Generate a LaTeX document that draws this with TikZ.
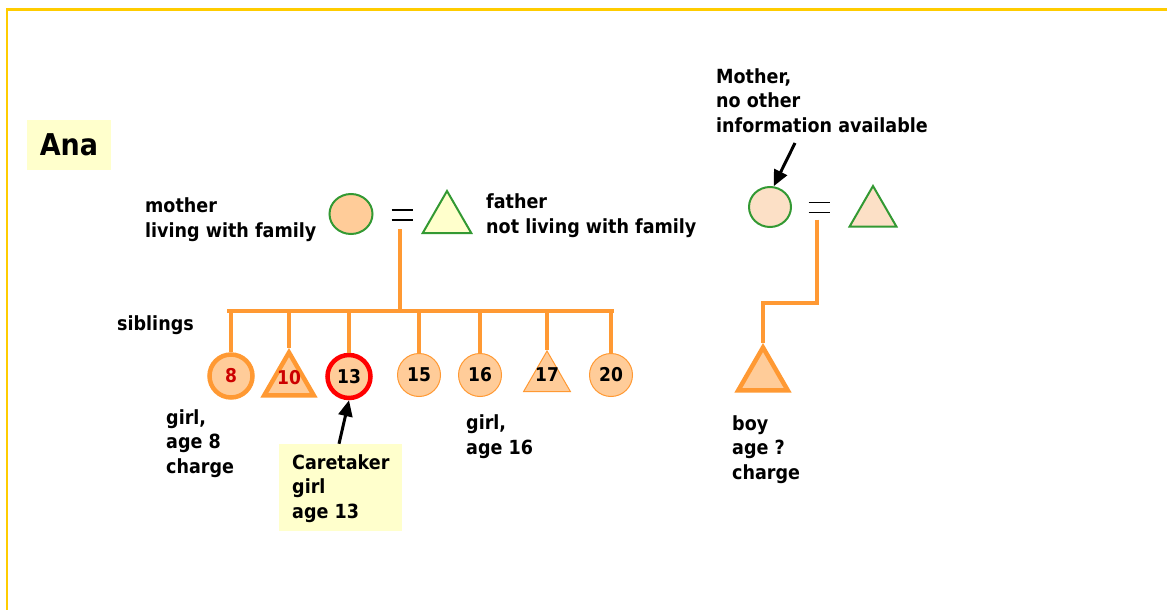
\documentclass[tikz,border=0pt]{standalone}
\usepackage{fontspec}
\setmainfont{DejaVu Sans}[FakeStretch=0.9]
\usetikzlibrary{shapes.geometric,arrows.meta,calc}
\definecolor{kinorange}{HTML}{FF9933}
\definecolor{peach}{HTML}{FFCC99}
\definecolor{kingreen}{HTML}{339933}
\definecolor{paleyellow}{HTML}{FFFFCC}
\definecolor{framegold}{HTML}{FFCC00}
\definecolor{numred}{HTML}{CC0000}
\definecolor{hatchfill}{HTML}{FCE0C6}
\begin{document}
\begin{tikzpicture}[x=1pt,y=-1pt,
  lbl/.style={font=\bfseries\fontsize{19.5}{24.5}\selectfont, align=left, inner sep=0pt, anchor=base west},
  num/.style={font=\bfseries\fontsize{19}{20}\selectfont},
  kin/.style={draw=kinorange, line width=4pt},
  femthin/.style={circle, minimum size=43pt, inner sep=0pt, fill=peach, draw=kinorange, line width=1pt, num},
  femthick/.style={circle, minimum size=43pt, inner sep=0pt, fill=peach, draw=kinorange, line width=4.5pt, num},
  malethin/.style={regular polygon, regular polygon sides=3, minimum size=54pt, inner sep=0pt, fill=peach, draw=kinorange, line width=1pt},
  malethick/.style={regular polygon, regular polygon sides=3, minimum size=57pt, inner sep=0pt, fill=peach, draw=kinorange, line width=4.5pt},
  parentfem/.style={ellipse, minimum width=43pt, minimum height=40pt, inner sep=0pt, draw=kingreen, line width=2pt},
  parentmale/.style={regular polygon, regular polygon sides=3, minimum size=56pt, inner sep=0pt, draw=kingreen, line width=2pt},
  eqsign/.style={minimum width=21pt, minimum height=10pt, inner sep=0pt, outer sep=0pt},
  eqline/.style={draw=black, line width=1.3pt},
  pointer/.style={draw=black, line width=3pt, -{Triangle[length=16pt,width=14pt]}},
  notebox/.style={fill=paleyellow, inner sep=0pt}
]
\useasboundingbox (0,0) rectangle (1167,610);
% frame
\draw[framegold, line width=2.2pt] (7,620) -- (7,9.5) -- (1175,9.5);

% title
\node[notebox, minimum width=84pt, minimum height=50pt, font=\bfseries\fontsize{30}{32}\selectfont] (ana) at (69,145) {Ana};

% left parents
\node[parentfem, fill=peach] (mo) at (351,214) {};
\node[eqsign] (eq1) at (402,215) {};
\draw[eqline] (eq1.north west) -- (eq1.north east) (eq1.south west) -- (eq1.south east);
\node[parentmale, fill=paleyellow] (fa) at (447,219) {};
\node[lbl] (motxt) at (145,237) {mother\\living with family};
\node[lbl] (fatxt) at (486,233) {father\\not living with family};

% siblings
\node[femthick, text=numred] (s8) at (231,376) {8};
\node[malethick, label={[num, text=numred, inner sep=0pt, yshift=3pt]center:10}] (s10) at (289,381) {};
\node[femthick, draw=red] (s13) at (349,376.5) {13};
\node[femthin] (s15) at (419,375) {15};
\node[femthin] (s16) at (480,375) {16};
\node[malethin, label={[num, inner sep=0pt, yshift=3pt]center:17}] (s17) at (547,378) {};
\node[femthin] (s20) at (611,375) {20};

\coordinate (barL) at (227,311);
\coordinate (barR) at (614,311);
\draw[kin] ([xshift=-2pt,yshift=-9pt]eq1.south) -- ([xshift=-2pt]eq1.south |- barL);
\draw[kin] (barL) -- (barR);
\foreach \n in {s8,s13,s15,s16,s20}
  \draw[kin] (\n.north |- barL) -- (\n.north);
\foreach \n in {s10,s17}
  \draw[kin] (\n.corner 1 |- barL) -- (\n.corner 1);

\node[lbl] (sib) at (117,330) {siblings};
\node[lbl] (g8) at (166,473) {girl,\\age 8\\charge};
\node[lbl] (g16) at (466,454) {girl,\\age 16};

% caretaker note
\node[notebox, minimum width=123pt, minimum height=87pt] (care) at (340.5,487.5) {};
\node[lbl] (caretxt) at (292,518) {Caretaker\\girl\\age 13};
\draw[pointer] ([xshift=-1.5pt]care.north) -- (s13.south);

% right parents
\node[lbl] (minfo) at (716,132) {Mother,\\no other\\information available};
\node[parentfem, fill=hatchfill, minimum width=42pt] (gm) at (770,207) {};
\node[eqsign] (eq2) at (819,207.5) {};
\draw[eqline] (eq2.north west) -- (eq2.north east) (eq2.south west) -- (eq2.south east);
\node[parentmale, fill=hatchfill, minimum size=54pt] (gf) at (873,213) {};
\coordinate (mtail) at (795,143);
\draw[pointer] (mtail) -- (gm.80);

% boy
\node[malethick] (boy) at (763,376) {};
\coordinate (bend) at (816.5,303);
\draw[kin] ([xshift=-2.5pt,yshift=-7pt]eq2.south) -- (bend) -| (boy.corner 1);
\node[lbl] (boytxt) at (732,479) {boy\\age ?\\charge};
\end{tikzpicture}
\end{document}
